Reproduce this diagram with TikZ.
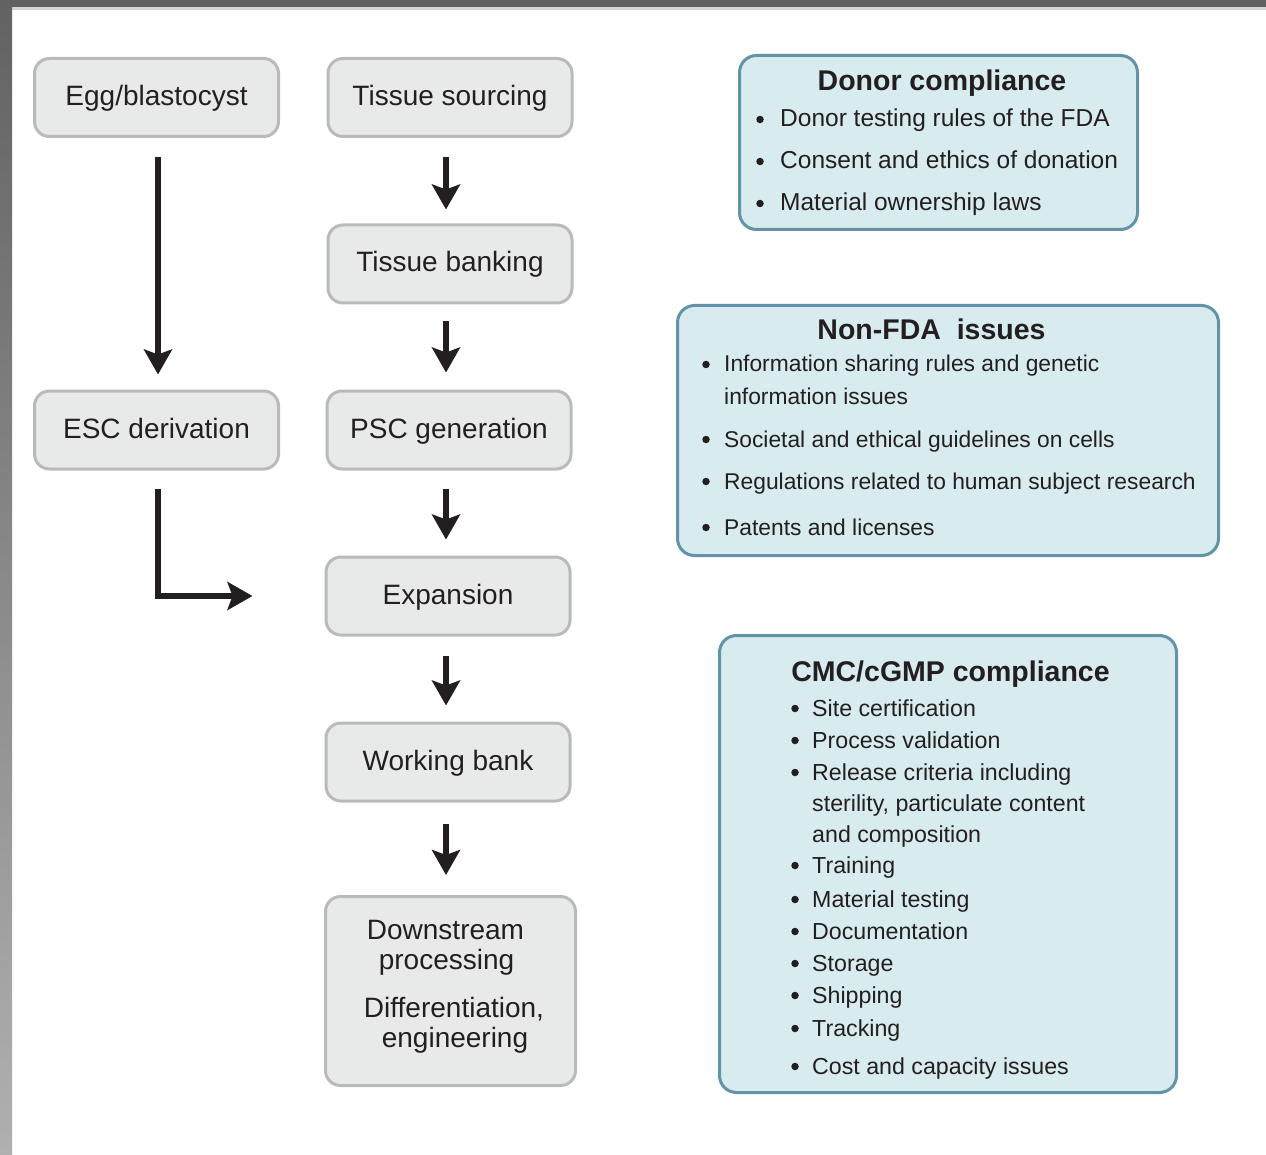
\documentclass[tikz,border=0pt]{standalone}
\usepackage{fontspec}
\setmainfont{Liberation Sans}
\usetikzlibrary{arrows.meta,calc}
\definecolor{ink}{HTML}{231F20}
\definecolor{stepfill}{HTML}{E8EAE9}
\definecolor{stepline}{HTML}{B8BABC}
\definecolor{notefill}{HTML}{D8EBEE}
\definecolor{noteline}{HTML}{6393A6}
\definecolor{bandtop}{HTML}{626262}
\definecolor{bandlow}{HTML}{B0B0B0}
\definecolor{bandedge}{HTML}{D6D6D6}

% one bulleted line: name, bullet x, text x, baseline y, text
\newcommand{\bulletrow}[5]{%
  \node[dot] (#1b) at (#2,#4-7.5) {};
  \node[itemtext] (#1) at (#3,#4) {#5};}

\begin{document}
\begin{tikzpicture}[x=1pt,y=-1pt,
  stepbox/.style={draw=stepline, fill=stepfill, line width=3pt, rounded corners=15pt,
    minimum width=244pt, minimum height=78pt, inner sep=0pt, text=ink,
    font=\fontsize{28}{32}\selectfont, text height=20pt, text depth=4pt},
  notebox/.style={draw=noteline, fill=notefill, line width=3pt, rounded corners=17pt, inner sep=0pt},
  flow/.style={draw=ink, line width=5.5pt, line join=miter,
    -{Stealth[length=25pt,width=28pt,inset=5pt]}},
  title/.style={anchor=base, text=ink, inner sep=0pt, font=\bfseries\fontsize{28.5}{32}\selectfont},
  itemtext/.style={anchor=base west, text=ink, inner sep=0pt},
  dot/.style={circle, fill=ink, minimum size=7.5pt, inner sep=0pt},
  line/.style={anchor=base, text=ink, inner sep=0pt, font=\fontsize{28}{32}\selectfont},
]
\useasboundingbox (0,0) rectangle (1266,1155);
\fill[white] (0,0) rectangle (1266,1155);
% frame edges
\fill[bandedge] (12,7) rectangle (1266,10);
\fill[bandtop] (0,0) rectangle (1266,7);
\shade[top color=bandtop, bottom color=bandlow] (0,0) rectangle (12,1155);

% process steps
\node[stepbox] (egg) at (156.5,97.5) {Egg/blastocyst};
\node[stepbox] (ts)  at (450,97.5)   {Tissue sourcing};
\node[stepbox] (tb)  at (450,264)    {Tissue banking};
\node[stepbox] (esc) at (156.5,430)  {ESC derivation};
\node[stepbox] (psc) at (449,430)    {PSC generation};
\node[stepbox] (exp) at (448,596)    {Expansion};
\node[stepbox] (wb)  at (448,762)    {Working bank};
\node[stepbox, minimum width=250pt, minimum height=189pt] (ds) at (450.5,991) {};
\node[line] (ds1) at (445.5,939) {Downstream};
\node[line] (ds2) at (446.5,969) {processing};
\node[line] (ds3) at (454,1017) {Differentiation,};
\node[line] (ds4) at (455,1047) {engineering};

% arrows
\coordinate (col) at (446,0);
\coordinate (lcol) at (158,0);
\draw[flow, shorten <=19pt, shorten >=14pt] (ts.south -| col) -- (tb.north -| col);
\draw[flow, shorten <=17pt, shorten >=17pt] (tb.south -| col) -- (psc.north -| col);
\draw[flow, shorten <=18pt, shorten >=16pt] (psc.south -| col) -- (exp.north -| col);
\draw[flow, shorten <=19pt, shorten >=16pt] (exp.south -| col) -- (wb.north -| col);
\draw[flow, shorten <=21pt, shorten >=20pt] (wb.south -| col) -- (ds.north -| col);
\draw[flow, line width=6pt, shorten <=19pt, shorten >=15pt] (egg.south -| lcol) -- (esc.north -| lcol);
\draw[flow, line width=6pt, shorten <=18pt, shorten >=72pt] (esc.south -| lcol) |- (exp.west);

% donor compliance
\node[notebox, minimum width=398pt, minimum height=174pt] (donor) at (938.5,142.5) {};
\node[title] (donort) at (942,91) {Donor compliance};
\begin{scope}[nodes={font=\fontsize{24.5}{28}\selectfont}]
\bulletrow{d1}{760}{780}{127}{Donor testing rules of the FDA}
\bulletrow{d2}{760}{780}{169}{Consent and ethics of donation}
\bulletrow{d3}{760}{780}{211}{Material ownership laws}
\end{scope}

% non-FDA issues
\node[notebox, minimum width=541pt, minimum height=250pt] (nonfda) at (948,430.5) {};
\node[title] (nonfdat) at (931.5,340) {Non-FDA\ \ issues};
\begin{scope}[nodes={font=\fontsize{22.8}{26}\selectfont}]
\bulletrow{n1}{706}{724}{372}{Information sharing rules and genetic}
\node[itemtext] (n1c) at (724,404) {information issues};
\bulletrow{n2}{706}{724}{447}{Societal and ethical guidelines on cells}
\bulletrow{n3}{706}{724}{489}{Regulations related to human subject research}
\bulletrow{n4}{706}{724}{535}{Patents and licenses}
\end{scope}

% CMC/cGMP compliance
\node[notebox, minimum width=457pt, minimum height=457pt] (cmc) at (948,864) {};
\node[title] (cmct) at (950.5,681) {CMC/cGMP compliance};
\begin{scope}[nodes={font=\fontsize{23.2}{26}\selectfont}]
\bulletrow{c1}{795}{812}{716}{Site certification}
\bulletrow{c2}{795}{812}{748}{Process validation}
\bulletrow{c3}{795}{812}{780}{Release criteria including}
\node[itemtext] (c3b) at (812,811) {sterility, particulate content};
\node[itemtext] (c3c) at (812,842) {and composition};
\bulletrow{c4}{795}{812}{873}{Training}
\bulletrow{c5}{795}{812}{907}{Material testing}
\bulletrow{c6}{795}{812}{939}{Documentation}
\bulletrow{c7}{795}{812}{971}{Storage}
\bulletrow{c8}{795}{812}{1003}{Shipping}
\bulletrow{c9}{795}{812}{1036}{Tracking}
\bulletrow{c10}{795}{812}{1074}{Cost and capacity issues}
\end{scope}
\end{tikzpicture}
\end{document}
